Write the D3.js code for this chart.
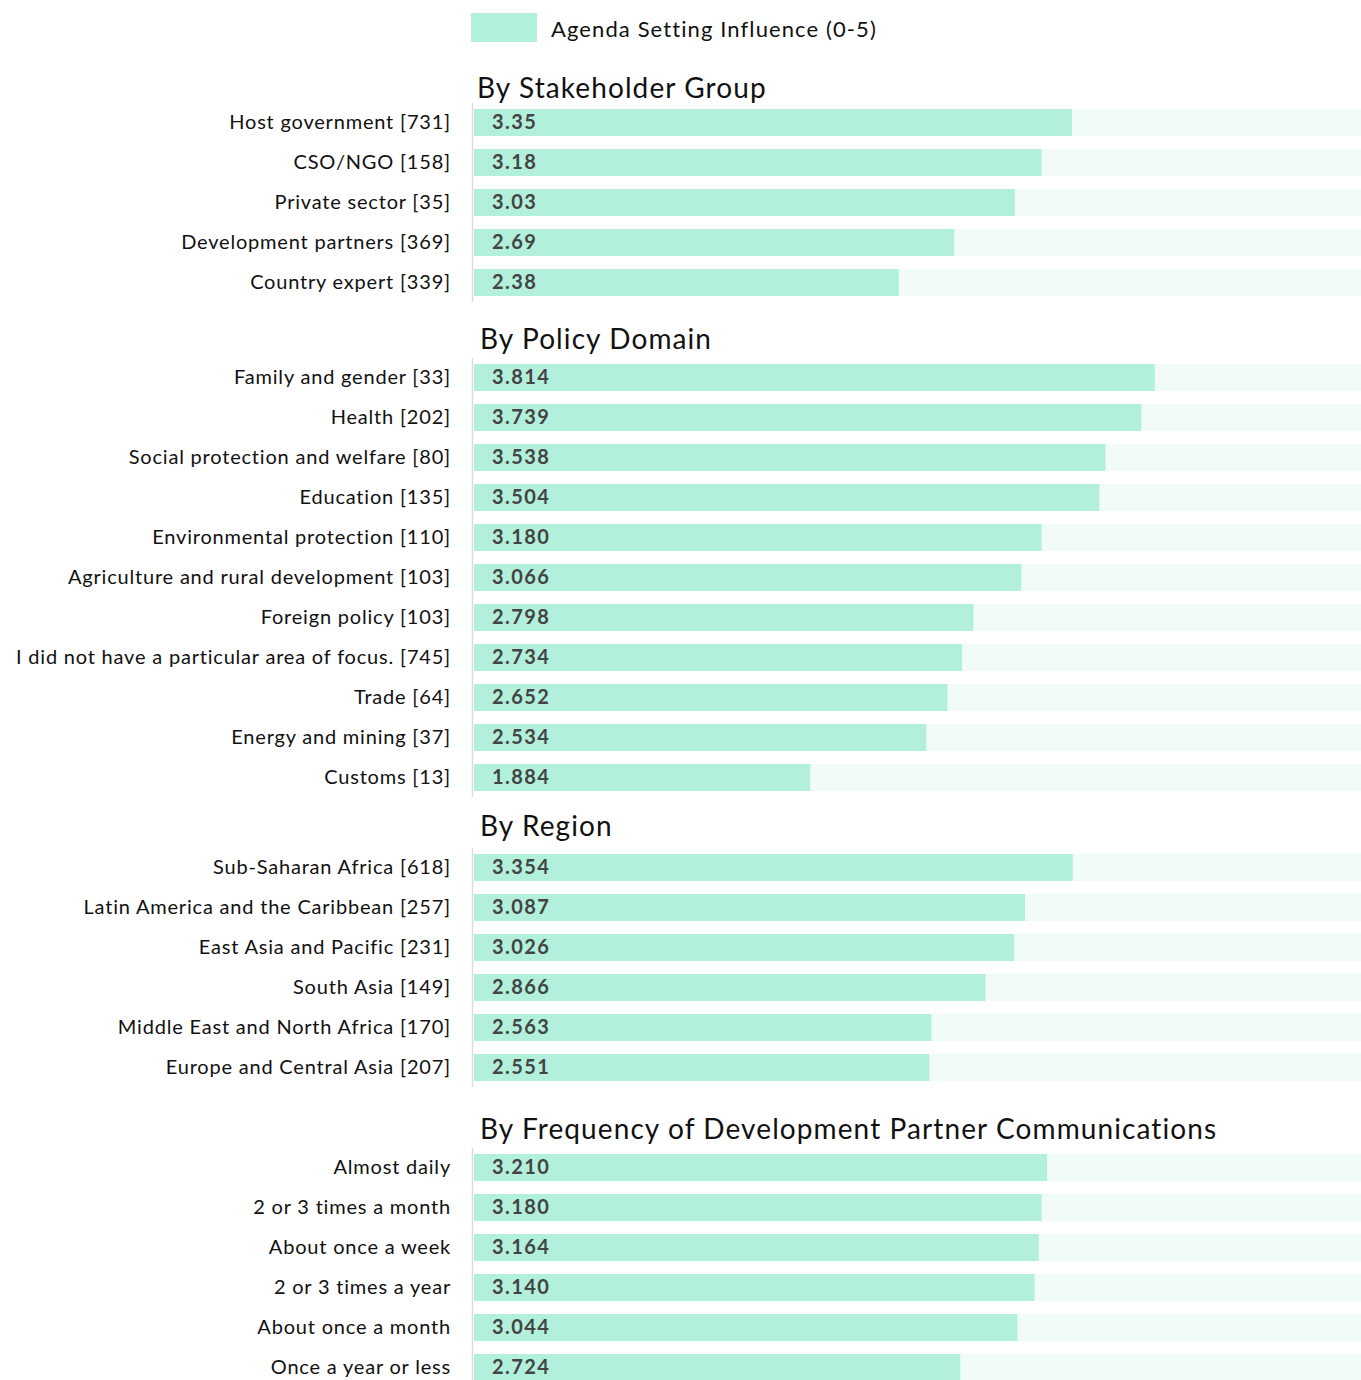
<!DOCTYPE html>
<html lang="en">
<head>
<meta charset="utf-8">
<title>Agenda Setting Influence</title>
<script src="https://d3js.org/d3.v7.min.js"></script>
<style>
  body { margin: 0; background: #fff; }
  svg { display: block; font-family: Lato, "Open Sans", sans-serif; }
  .label { font-size: 20px; fill: #111; letter-spacing: 0.8px; }
  .value { font-size: 20px; font-weight: bold; fill: #444; letter-spacing: 1.4px; }
  .title { font-size: 28px; fill: #111; letter-spacing: 1.1px; }
</style>
</head>
<body>
<script>
// data
var stakeholderNames = ["Host government [731]", "CSO/NGO [158]", "Private sector [35]", "Development partners [369]", "Country expert [339]"];
var stakeholderValues = [3.35, 3.18, 3.03, 2.69, 2.38];

var policyNames = ["Family and gender [33]", "Health [202]", "Social protection and welfare [80]", "Education [135]",
  "Environmental protection [110]", "Agriculture and rural development [103]", "Foreign policy [103]",
  "I did not have a particular area of focus. [745]", "Trade [64]", "Energy and mining [37]", "Customs [13]"];
var policyValues = [3.814, 3.739, 3.538, 3.504, 3.180, 3.066, 2.798, 2.734, 2.652, 2.534, 1.884];

var regionNames = ["Sub-Saharan Africa [618]", "Latin America and the Caribbean [257]", "East Asia and Pacific [231]",
  "South Asia [149]", "Middle East and North Africa [170]", "Europe and Central Asia [207]"];
var regionValues = [3.354, 3.087, 3.026, 2.866, 2.563, 2.551];

var freqNames = ["Almost daily", "2 or 3 times a month", "About once a week", "2 or 3 times a year", "About once a month", "Once a year or less"];
var freqValues = [3.210, 3.180, 3.164, 3.140, 3.044, 2.724];

var legendLabel = "Agenda Setting Influence (0-5)";

var sections = [
  {title: "By Stakeholder Group", names: stakeholderNames, values: stakeholderValues, digits: 2, top: 109, titleX: 477, titleY: 98},
  {title: "By Policy Domain", names: policyNames, values: policyValues, digits: 3, top: 364, titleX: 480, titleY: 349},
  {title: "By Region", names: regionNames, values: regionValues, digits: 3, top: 854, titleX: 480, titleY: 836},
  {title: "By Frequency of Development Partner Communications", names: freqNames, values: freqValues, digits: 3, top: 1154, titleX: 480, titleY: 1139}
];

var w = 1361, h = 1380;
var barColor = "#b2f0dc", trackColor = "#f1fcf7";
var step = 40, barH = 27;

var svg = d3.select("body").append("svg")
  .attr("width", w)
  .attr("height", h);

var x = d3.scaleLinear().domain([0, 5]).range([474, 1366.5]);

// legend
svg.append("rect")
  .attr("x", 471).attr("y", 13)
  .attr("width", 66).attr("height", 29)
  .attr("fill", barColor);
svg.append("text")
  .attr("x", 551).attr("y", 37)
  .attr("font-size", "22px")
  .attr("letter-spacing", "1.1px")
  .attr("fill", "#111")
  .text(legendLabel);

sections.forEach(function(s) {
  var y = d3.scaleBand()
    .domain(s.names)
    .range([s.top, s.top + step * s.names.length])
    .paddingInner(0)
    .paddingOuter(0);

  var g = svg.append("g");

  g.append("text")
    .attr("class", "title")
    .attr("x", s.titleX)
    .attr("y", s.titleY)
    .text(s.title);

  // thin axis line on the left
  g.append("line")
    .attr("x1", 472.5).attr("x2", 472.5)
    .attr("y1", s.top - 6)
    .attr("y2", s.top + step * (s.names.length - 1) + barH + 6)
    .attr("stroke", "#dcdcdc")
    .attr("stroke-width", 1.5);

  var rows = g.selectAll("g.row")
    .data(s.names.map(function(n, i) { return {name: n, value: s.values[i]}; }))
    .enter().append("g")
    .attr("class", "row");

  rows.append("rect")
    .attr("x", x(0))
    .attr("y", function(d) { return y(d.name); })
    .attr("width", x(5) - x(0))
    .attr("height", barH)
    .attr("fill", trackColor);

  rows.append("rect")
    .attr("x", x(0))
    .attr("y", function(d) { return y(d.name); })
    .attr("width", function(d) { return x(d.value) - x(0); })
    .attr("height", barH)
    .attr("fill", barColor);

  rows.append("text")
    .attr("class", "value")
    .attr("x", x(0) + 18)
    .attr("y", function(d) { return y(d.name) + barH / 2; })
    .attr("dy", "0.33em")
    .text(function(d) { return d.value.toFixed(s.digits); });

  rows.append("text")
    .attr("class", "label")
    .attr("x", 451)
    .attr("y", function(d) { return y(d.name) + barH / 2; })
    .attr("dy", "0.33em")
    .attr("text-anchor", "end")
    .text(function(d) { return d.name; });
});
</script>
</body>
</html>
